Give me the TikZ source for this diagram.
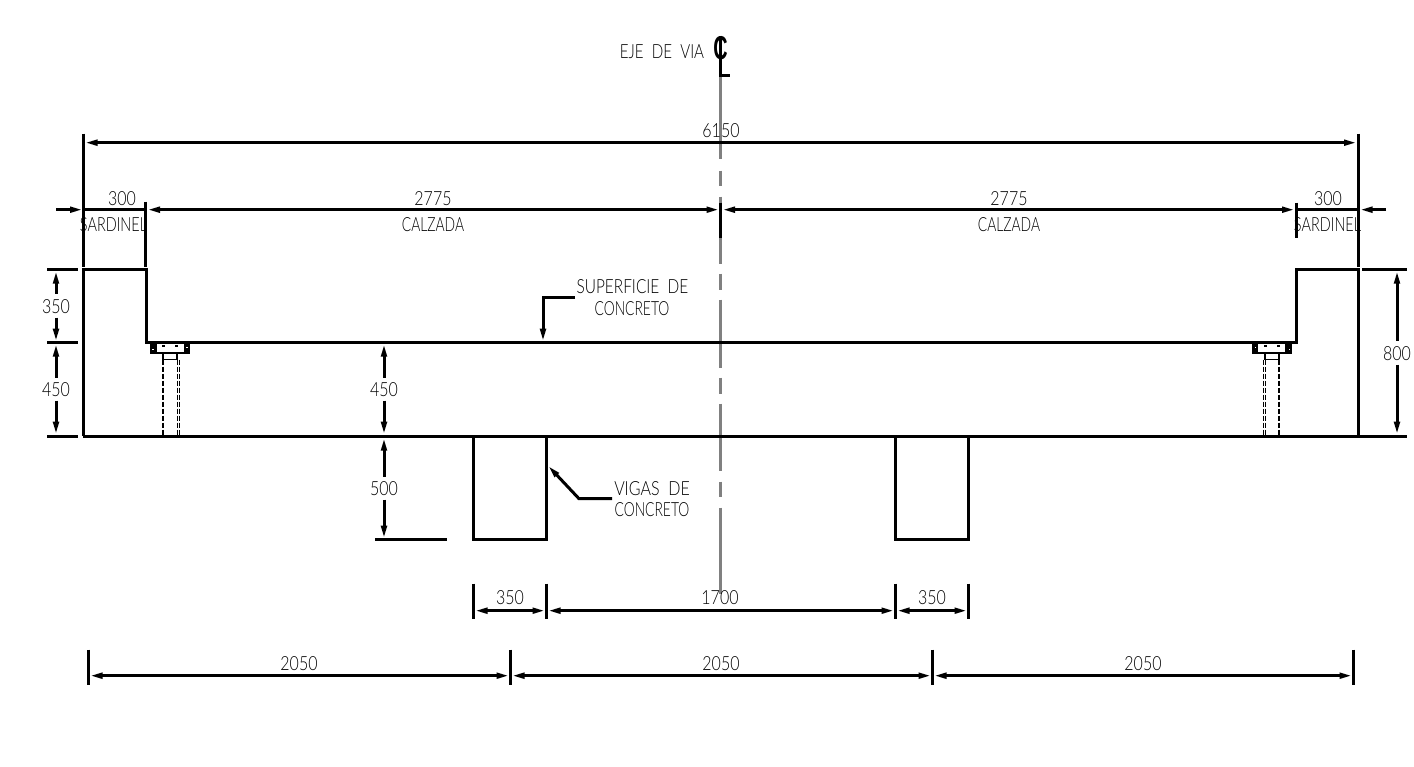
\documentclass[tikz,border=0pt]{standalone}
\usepackage{graphicx}
\usepackage{fontspec}
\setmainfont{Lato Light}
\newfontfamily\clfont{Liberation Sans}
\usetikzlibrary{arrows.meta}
\newcommand{\cad}[1]{\scalebox{0.71}[1]{#1}}
\newcommand{\cadw}[2]{\scalebox{#1}[1]{#2}}
\newcommand{\cadn}[1]{\scalebox{0.82}[1]{#1}}
\newcommand{\boltdetail}{%
  \fill (150,343) rectangle (157,353);
  \fill (184,343) rectangle (190,353);
  \fill (150,351) rectangle (190,353.5);
  \fill (162,344) rectangle (165,346);
  \fill (175,344) rectangle (178,346);
  \fill[white] (152,348) rectangle (153.5,349.5);
  \fill[white] (186,346) rectangle (187.5,347.5);
  \draw[line width=1.2pt] (163,353) rectangle (177,359);
  \draw[line width=2pt,dash pattern=on 5pt off 2pt] (163,359) -- (163,435);
  \draw[line width=1pt,dash pattern=on 5pt off 2pt] (177,359) -- (177,435);
  \draw[line width=1pt,dash pattern=on 5pt off 2pt] (179,359) -- (179,435);
}
\tikzset{
  x=1pt,y=-1pt,
  obj/.style={line width=3pt,line cap=butt,line join=miter},
  center line/.style={line width=3pt,draw=black!50},
  dimtip/.tip={Triangle[length=13pt,width=5.5pt]},
  dimboth/.style={obj,{dimtip}-{dimtip}},
  dimend/.style={obj,-{dimtip}},
  dimstart/.style={obj,{dimtip}-},
  cadtext/.style={font=\fontsize{19.5}{22}\selectfont,inner sep=0pt,text=black},
}
\begin{document}
\begin{tikzpicture}
\useasboundingbox (0,0) rectangle (1414,767);
\begin{scope}[yshift=-0.7pt]
% centre line
\foreach \ya/\yb in {75/158,170/185,196/263,273/289,299/367,377/393,403/470,481/496,507/593}
  \draw[center line] (720.5,\ya) -- (720.5,\yb);
% CL symbol
\node[cadtext,font=\clfont\bfseries\fontsize{33}{36}\selectfont] (clsym) at (720.5,47) {\scalebox{0.6}[1]{C}};
\draw[obj] (720.5,35) -- (720.5,75) -- (730,75);
% overall dimension
\draw[dimboth] (84.5,142) -- (1357,142);
\draw[obj] (83.5,133) -- (83.5,266);
\draw[obj] (1358.5,133) -- (1358.5,266);
% second row
\draw[dimend] (56,209) -- (83,209);
\draw[obj] (83,209) -- (146,209);
\draw[dimboth] (147,209) -- (719.5,209);
\draw[dimboth] (722,209) -- (1295,209);
\draw[obj] (1296,209) -- (1358,209);
\draw[dimend] (1386,209) -- (1359.5,209);
\draw[obj] (145.5,201) -- (145.5,266);
\draw[obj] (720.5,202) -- (720.5,237);
\draw[obj] (1296.5,202) -- (1296.5,237);
% section
\draw[obj] (83.5,435) -- (83.5,269) -- (146,269) -- (146,342) -- (1296.5,342) -- (1296.5,269) -- (1358.5,269) -- (1358.5,435);
\draw[obj] (83,435.5) -- (1407,435.5);
\draw[obj] (473.5,435) -- (473.5,539) -- (546.5,539) -- (546.5,435);
\draw[obj] (895.5,435) -- (895.5,539) -- (968.5,539) -- (968.5,435);
% extension lines
\draw[obj] (47,269) -- (78,269);
\draw[obj] (47,342) -- (78,342);
\draw[obj] (47,435.5) -- (78,435.5);
\draw[obj] (1362,269) -- (1407,269);
\draw[obj] (375,539) -- (447,539);
% anchors
\begin{scope}\boltdetail\end{scope}
\begin{scope}[xshift=1442pt,xscale=-1]\boltdetail\end{scope}
% vertical dims
\draw[dimstart] (56,270) -- (56,293);
\draw[dimend] (56,317) -- (56,341);
\draw[dimstart] (56,343) -- (56,377);
\draw[dimend] (56,400) -- (56,434);
\draw[dimstart] (384,343) -- (384,377);
\draw[dimend] (384,400) -- (384,434);
\draw[dimstart] (384,437) -- (384,476);
\draw[dimend] (384,499) -- (384,538);
\draw[dimstart] (1397,270) -- (1397,340);
\draw[dimend] (1397,364) -- (1397,434);
% beam dims
\draw[obj] (473.5,583) -- (473.5,618);
\draw[obj] (546.5,583) -- (546.5,618);
\draw[obj] (895.5,583) -- (895.5,618);
\draw[obj] (968.5,583) -- (968.5,618);
\draw[dimboth] (474.5,610) -- (545.5,610);
\draw[dimboth] (547.5,610) -- (894.5,610);
\draw[dimboth] (896.5,610) -- (967.5,610);
% bottom dims
\draw[obj] (88.5,649) -- (88.5,684);
\draw[obj] (510.5,649) -- (510.5,684);
\draw[obj] (932.5,649) -- (932.5,684);
\draw[obj] (1353.5,649) -- (1353.5,684);
\draw[dimboth] (89.5,675) -- (509.5,675);
\draw[dimboth] (511.5,675) -- (931.5,675);
\draw[dimboth] (933.5,675) -- (1352.5,675);
% leaders
\coordinate (supA) at (575,296.5);
\coordinate (supB) at (543,296.5);
\coordinate (supC) at (543,341);
\draw[dimend] (supA) -- (supB) -- (supC);
\coordinate (vigA) at (612,498);
\coordinate (vigB) at (579,498);
\coordinate (vigC) at (548,465);
\draw[dimend] (vigA) -- (vigB) -- (vigC);
% texts
\node[cadtext] (t6150) at (721,130) {\cadn{6150}};
\node[cadtext] (t300a) at (122,198) {\cadn{300}};
\node[cadtext] (t300b) at (1328,198) {\cadn{300}};
\node[cadtext] (t2775a) at (433,198) {\cadn{2775}};
\node[cadtext] (t2775b) at (1009,198) {\cadn{2775}};
\node[cadtext] (tsarda) at (113.5,224) {\cadw{0.74}{SARDINEL}};
\node[cadtext] (tsardb) at (1327.5,224) {\cadw{0.74}{SARDINEL}};
\node[cadtext] (tcala) at (433,224) {\cad{CALZADA}};
\node[cadtext] (tcalb) at (1009,224) {\cad{CALZADA}};
\node[cadtext] (teje) at (662,51) {\cadw{0.775}{EJE\ \ DE\ \ VIA}};
\node[cadtext] (tsupa) at (632.5,286) {\cadw{0.79}{SUPERFICIE\ \ DE}};
\node[cadtext] (tsupb) at (632,308) {\cad{CONCRETO}};
\node[cadtext] (tviga) at (652,488) {\cadw{0.82}{VIGAS\ \ DE}};
\node[cadtext] (tvigb) at (652,509) {\cad{CONCRETO}};
\node[cadtext] (t350a) at (56,306) {\cadn{350}};
\node[cadtext] (t450a) at (56,389) {\cadn{450}};
\node[cadtext] (t450b) at (384,389) {\cadn{450}};
\node[cadtext] (t500) at (384,488) {\cadn{500}};
\node[cadtext] (t800) at (1397,353) {\cadn{800}};
\node[cadtext] (t350b) at (510,597) {\cadn{350}};
\node[cadtext] (t1700) at (720,597) {\cadn{1700}};
\node[cadtext] (t350c) at (932,597) {\cadn{350}};
\node[cadtext] (t2050a) at (299,663) {\cadn{2050}};
\node[cadtext] (t2050b) at (721,663) {\cadn{2050}};
\node[cadtext] (t2050c) at (1143,663) {\cadn{2050}};
\end{scope}
\end{tikzpicture}
\end{document}
